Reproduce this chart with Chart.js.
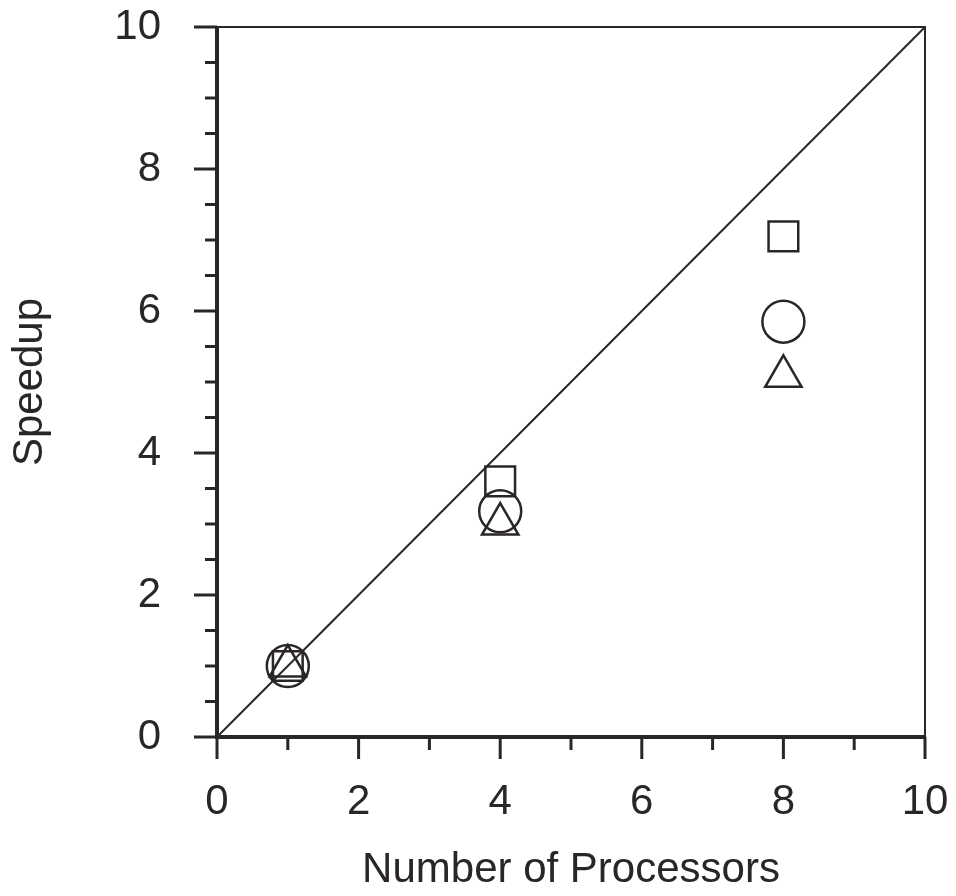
<!DOCTYPE html>
<html>
<head>
<meta charset="utf-8">
<script src="https://cdn.jsdelivr.net/npm/chart.js@4/dist/chart.umd.min.js"></script>
<style>
  html, body { margin: 0; padding: 0; background: #fff; }
  #wrap { width: 956px; height: 896px; }
</style>
</head>
<body>
<div id="wrap"><canvas id="grafico" width="956" height="896"></canvas></div>
<script>
const processadores = [1, 4, 8];
const speedupQuadrado = [1, 3.6, 7.05];
const speedupCirculo = [1, 3.18, 5.85];
const speedupTriangulo = [1, 3.0, 5.08];
const idealX = [0, 10];
const idealY = [0, 10];
const xTicks = [0, 2, 4, 6, 8, 10];
const yTicks = [0, 2, 4, 6, 8, 10];
const xMinor = [1, 3, 5, 7, 9];
const yMinor = [0.5, 1, 1.5, 2.5, 3, 3.5, 4.5, 5, 5.5, 6.5, 7, 7.5, 8.5, 9, 9.5];

const tinta = '#2a2627';
const fonte = "'Liberation Sans', Arial, Helvetica, sans-serif";

function pontos(xs, ys) {
  return xs.map((x, i) => ({ x: x, y: ys[i] }));
}

// moldura e marcas dos eixos (grossas embaixo e à esquerda)
const molduraPlugin = {
  id: 'moldura',
  afterDraw(chart) {
    const { ctx, chartArea: a, scales } = chart;
    const sx = scales.x, sy = scales.y;
    ctx.save();
    ctx.strokeStyle = tinta;
    ctx.lineWidth = 2;
    ctx.strokeRect(a.left, a.top, a.right - a.left, a.bottom - a.top);
    ctx.lineWidth = 4;
    ctx.beginPath();
    ctx.moveTo(a.left, a.top - 1);
    ctx.lineTo(a.left, a.bottom);
    ctx.lineTo(a.right + 1, a.bottom);
    ctx.stroke();
    ctx.lineWidth = 3;
    ctx.beginPath();
    xTicks.forEach(v => {
      const px = sx.getPixelForValue(v);
      ctx.moveTo(px, a.bottom); ctx.lineTo(px, a.bottom + 22);
    });
    xMinor.forEach(v => {
      const px = sx.getPixelForValue(v);
      ctx.moveTo(px, a.bottom); ctx.lineTo(px, a.bottom + 13);
    });
    yTicks.forEach(v => {
      const py = sy.getPixelForValue(v);
      ctx.moveTo(a.left, py); ctx.lineTo(a.left - 23, py);
    });
    yMinor.forEach(v => {
      const py = sy.getPixelForValue(v);
      ctx.moveTo(a.left, py); ctx.lineTo(a.left - 12, py);
    });
    ctx.stroke();
    ctx.restore();
  }
};

const marcador = {
  pointRadius: 21,
  pointHoverRadius: 21,
  pointBorderWidth: 2.5,
  pointBorderColor: tinta,
  pointBackgroundColor: 'rgba(0,0,0,0)',
  showLine: false
};

const ctx = document.getElementById('grafico').getContext('2d');
const grafico = new Chart(ctx, {
  type: 'scatter',
  data: {
    datasets: [
      {
        label: 'Ideal',
        data: pontos(idealX, idealY),
        showLine: true,
        borderColor: tinta,
        borderWidth: 2,
        pointRadius: 0,
        fill: false
      },
      Object.assign({ label: 'Quadrado', data: pontos(processadores, speedupQuadrado), pointStyle: 'rect' }, marcador),
      Object.assign({ label: 'Círculo', data: pontos(processadores, speedupCirculo), pointStyle: 'circle' }, marcador),
      Object.assign({ label: 'Triângulo', data: pontos(processadores, speedupTriangulo), pointStyle: 'triangle' }, marcador)
    ]
  },
  options: {
    responsive: false,
    animation: false,
    layout: { padding: { top: 27, right: 31, left: 0, bottom: 0 } },
    plugins: { legend: { display: false }, tooltip: { enabled: false } },
    scales: {
      x: {
        type: 'linear',
        min: 0, max: 10,
        afterBuildTicks: s => { s.ticks = xTicks.map(v => ({ value: v })); },
        afterFit: s => { s.height = 159; s.paddingLeft = 0; s.paddingRight = 0; },
        grid: { display: false },
        border: { display: false },
        ticks: { color: tinta, padding: 32, font: { family: fonte, size: 42 } },
        title: {
          display: true,
          text: 'Number of Processors',
          color: tinta,
          font: { family: fonte, size: 42 },
          padding: { top: 0, bottom: 0 }
        }
      },
      y: {
        type: 'linear',
        min: 0, max: 10,
        afterBuildTicks: s => { s.ticks = yTicks.map(v => ({ value: v })); },
        afterFit: s => { s.width = 217; s.paddingTop = 0; s.paddingBottom = 0; },
        grid: { display: false },
        border: { display: false },
        ticks: { color: tinta, padding: 48, font: { family: fonte, size: 42 } },
        title: {
          display: true,
          text: 'Speedup',
          color: tinta,
          font: { family: fonte, size: 42 },
          padding: { top: 5, bottom: 0 }
        }
      }
    }
  },
  plugins: [molduraPlugin]
});
</script>
</body>
</html>
